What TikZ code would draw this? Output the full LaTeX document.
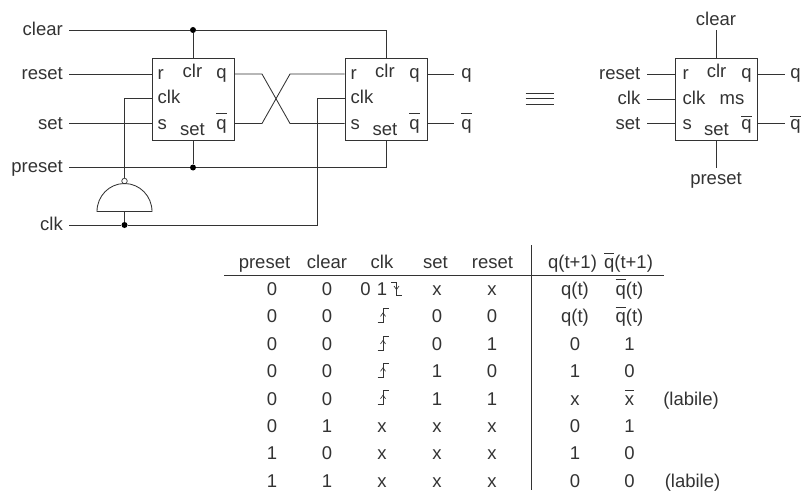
\documentclass[tikz,border=0pt]{standalone}
\usepackage{fontspec}
\setmainfont{Liberation Sans}
\definecolor{ink}{HTML}{333333}
\newcommand{\qbar}[1][14.5pt]{$\overline{\rule{0pt}{#1}\mbox{q}}$}
\newcommand{\xbar}{$\overline{\rule{0pt}{13pt}\mbox{x}}$}
\tikzset{
    wire/.style={draw=ink, line width=0.85pt},
    thinwire/.style={draw=ink, line width=0.65pt},
    box/.style={draw=ink, line width=0.9pt, fill=white, minimum size=82pt, inner sep=0pt},
    dot/.style={circle, fill=black, inner sep=0pt, minimum size=6pt},
    bubble/.style={circle, draw=ink, fill=white, line width=0.7pt, inner sep=0pt, minimum size=5.5pt},
    txt/.style={text=ink, inner sep=0pt, font=\fontsize{18.5}{20}\selectfont, anchor=mid, yshift=-2.7pt},
    lbl/.style={txt, anchor=mid east},
    pin/.style={txt, anchor=mid west}
}
\begin{document}
\begin{tikzpicture}[x=1pt, y=-1pt]
    \useasboundingbox (0, 0) rectangle (802, 492);

    % Left inputs
    \node[lbl] (clear) at (63, 30.5) {clear};
    \node[lbl] (reset) at (63, 74.5) {reset};
    \node[lbl] (set) at (63, 124) {set};
    \node[lbl] (preset) at (63, 167.5) {preset};
    \node[lbl] (clk) at (63, 225.5) {clk};

    % First flip-flop
    \node[box] (ffa) at (193, 99) {};
    \node[pin] (ar) at (157.5, 74.5) {r};
    \node[pin] (aclk) at (157.5, 98.5) {clk};
    \node[pin] (as) at (157.5, 124) {s};
    \node[txt] (aclr) at (192.5, 72) {clr};
    \node[txt] (aset) at (192.5, 130) {set};
    \node[txt] (aq) at (221.5, 73.5) {q};
    \node[txt] (aqb) at (221.5, 124) {\qbar};

    % Second flip-flop
    \node[box] (ffb) at (386, 99) {};
    \node[pin] (br) at (350.5, 74.5) {r};
    \node[pin] (bclk) at (350.5, 98.5) {clk};
    \node[pin] (bs) at (350.5, 124) {s};
    \node[txt] (bclr) at (385, 72) {clr};
    \node[txt] (bset) at (385, 130) {set};
    \node[txt] (bq) at (414.5, 73.5) {q};
    \node[txt] (bqb) at (414.5, 124) {\qbar};

    % Junctions
    \node[dot] (dclear) at (193, 30) {};
    \node[dot] (dpreset) at (193, 167.5) {};
    \node[dot] (dclk) at (124.5, 225) {};
    \coordinate (cleartop) at (386, 30);
    \coordinate (presetbot) at (386, 167.5);
    \coordinate (clkup) at (317, 225);
    \coordinate (clkin) at (317, 98.5);
    \coordinate (clkout) at (124.5, 98.5);
    \coordinate (topline) at (ffa.west |- 0, 74);
    \coordinate (botline) at (ffa.west |- 0, 123.5);

    % Wires
    \draw[wire] (69, 30) -- (dclear);
    \draw[wire] (dclear) -- (cleartop) -- (ffb.north -| cleartop);
    \draw[wire] (dclear) -- (ffa.north -| dclear);
    \draw[wire] (69, 167.5) -- (dpreset);
    \draw[wire] (dpreset) -- (presetbot) -- (ffb.south -| presetbot);
    \draw[wire] (dpreset) -- (ffa.south -| dpreset);
    \draw[wire] (69, 74) -- (topline);
    \draw[wire] (69, 123.5) -- (botline);
    \draw[wire] (69, 225) -- (dclk);
    \draw[wire] (dclk) -- (clkup) -- (clkin) -- (ffb.west |- clkin);

    % Cross between the two
    \draw[wire] (ffa.east |- topline) -- (262, 74) -- (290, 123.5) -- (ffb.west |- botline);
    \draw[wire] (ffa.east |- botline) -- (262, 123.5) -- (290, 74) -- (ffb.west |- topline);

    % Gate
    \node[bubble] (nand) at (124.5, 181) {};
    \coordinate (gatein) at (124.5, 211.5);
    \draw[wire] (97, 211.5) arc[start angle=180, end angle=0, x radius=27.5pt, y radius=28pt] -- cycle;
    \draw[wire] (clkout) -- (nand);
    \draw[wire] (clkout) -- (ffa.west |- clkout);
    \draw[wire] (gatein) -- (dclk);

    % Outputs
    \node[txt] (qa) at (466.5, 73.5) {q};
    \node[txt] (qb) at (466.5, 124) {\qbar};
    \draw[wire] (ffb.east |- topline) -- (454, 74);
    \draw[wire] (ffb.east |- botline) -- (454, 123.5);

    % Equivalence
    \foreach \ypos in {93, 98.5, 104} {
        \draw[thinwire] (525.5, \ypos) -- (553.5, \ypos);
    }

    % Symbol
    \node[box] (ffc) at (716, 99) {};
    \node[pin] (cr) at (682.5, 74.5) {r};
    \node[pin] (cclk) at (682.5, 99) {clk};
    \node[pin] (cs) at (682.5, 124) {s};
    \node[txt] (cclr) at (716.5, 72) {clr};
    \node[txt] (cms) at (732, 99) {ms};
    \node[txt] (cset) at (716.5, 130) {set};
    \node[txt] (cq) at (746.5, 73.5) {q};
    \node[txt] (cqb) at (746.5, 124) {\qbar[12pt]};
    \node[txt] (sclear) at (716, 20) {clear};
    \node[txt] (spreset) at (716, 179) {preset};
    \node[lbl] (sreset) at (640.5, 74.5) {reset};
    \node[lbl] (sclk) at (640.5, 99) {clk};
    \node[lbl] (sset) at (640.5, 124) {set};
    \node[txt] (sq) at (795.5, 73.5) {q};
    \node[txt] (sqb) at (795.5, 124) {\qbar[12pt]};
    \draw[wire] (ffc.north) -- (716, 30);
    \draw[wire] (ffc.south) -- (716, 167.5);
    \draw[wire] (647, 74) -- (ffc.west |- topline);
    \draw[wire] (647, 99) -- (ffc.west);
    \draw[wire] (647, 123.5) -- (ffc.west |- botline);
    \draw[wire] (ffc.east |- topline) -- (785, 74);
    \draw[wire] (ffc.east |- botline) -- (785, 123.5);

    % Table rules
    \coordinate (rulel) at (224, 275);
    \coordinate (ruler) at (664, 275);
    \coordinate (vtop) at (531, 245);
    \coordinate (vbot) at (531, 490);
    \draw[wire] (rulel) -- (ruler);
    \draw[wire] (vtop) -- (vbot);

    % Table header
    \foreach \xpos/\name in {264.5/preset, 327/clear, 382/clk, 435.5/set, 492.5/reset} {
        \node[txt] at (\xpos, 263.5) {\name};
    }
    \node[txt] (hq) at (572.5, 263.5) {q(t+1)};
    \node[txt] (hqb) at (628.5, 263.5) {\qbar(t+1)};

    % Table rows
    \foreach \ypos/\a/\b/\d/\e/\f/\g in {
        290/0/0/x/x/q(t)/\qbar(t),
        317.4/0/0/0/0/q(t)/\qbar(t),
        344.9/0/0/0/1/0/1,
        372.3/0/0/1/0/1/0,
        399.7/0/0/1/1/x/\xbar,
        427.1/0/1/x/x/0/1,
        454.6/1/0/x/x/1/0,
        482/1/1/x/x/0/0} {
        \node[txt] at (272, \ypos) {\a};
        \node[txt] at (327, \ypos) {\b};
        \node[txt] at (437, \ypos) {\d};
        \node[txt] at (492, \ypos) {\e};
        \node[txt] at (575, \ypos) {\f};
        \node[txt] at (629.5, \ypos) {\g};
    }

    % Clk column
    \node[txt] (c0) at (365.5, 290) {0};
    \node[txt] (c1) at (382, 290) {1};
    \foreach \ypos in {427.1, 454.6, 482} {
        \node[txt] at (382, \ypos) {x};
    }
    \draw[thinwire] (391, 282) -- (396.5, 282) -- (396.5, 295) -- (402, 295);
    \draw[thinwire] (394, 286) -- (396.5, 289.5) -- (399, 286);
    \foreach \ypos in {317.4, 344.9, 372.3, 399.7} {
        \draw[thinwire] (377.5, \ypos+5) -- (383, \ypos+5) -- (383, \ypos-9) -- (388.5, \ypos-9);
        \draw[thinwire] (380.5, \ypos-1) -- (383, \ypos-4.5) -- (385.5, \ypos-1);
    }

    % Notes
    \node[txt] (laba) at (691, 399.7) {(labile)};
    \node[txt] (labb) at (692.5, 482) {(labile)};
\end{tikzpicture}
\end{document}
